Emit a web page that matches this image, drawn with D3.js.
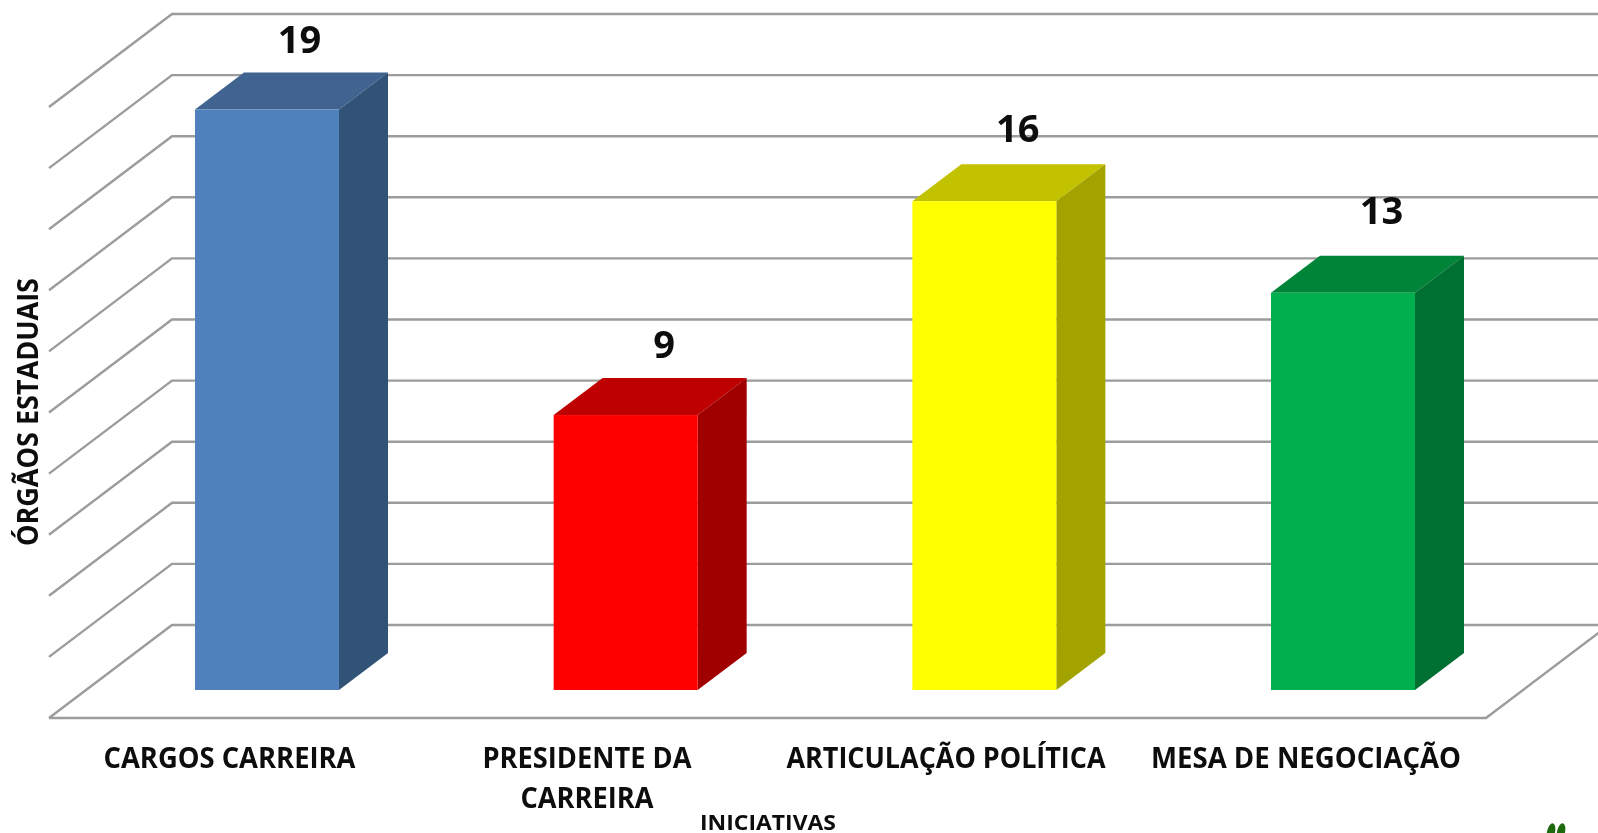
<!DOCTYPE html>
<html>
<head>
<meta charset="utf-8">
<script src="https://cdn.jsdelivr.net/npm/d3@7"></script>
<style>
html,body{margin:0;padding:0;background:#fff;overflow:hidden}
svg{display:block}
text{font-family:"Open Sans",sans-serif;font-weight:700;fill:#0a0a0a}
</style>
</head>
<body>
<svg id="chart" width="1598" height="833"></svg>
<script>
// Data
const categories = ["CARGOS CARREIRA", "PRESIDENTE DA CARREIRA", "ARTICULAÇÃO POLÍTICA", "MESA DE NEGOCIAÇÃO"];
const values = [19, 9, 16, 13];
const yDomain = [0, 20];
const yTickStep = 2;
const xTitle = "INICIATIVAS";
const yTitle = "ÓRGÃOS ESTADUAIS";

// Styles
const frontColors = ["#4f81bd", "#ff0000", "#ffff00", "#00b050"];
const topColors = ["#3f6390", "#bf0000", "#c2c200", "#008437"];
const sideColors = ["#325278", "#a00000", "#a3a300", "#006f32"];

// Layout of the pseudo-3D box
const W = 1598, H = 833;
const wallLeft = 172, depthX = 123, depthY = 93, floorRight = 1486;
const barDepthX = 49, barFrontDrop = 65, barBackDrop = 28;
const labelNudgeX = [8, 14, 9, 14];
const labelBaselineGap = [20, 20, 22, 32];
const catCenterX = [229.5, 587, 946, 1306];
const catLines = [["CARGOS CARREIRA"], ["PRESIDENTE DA", "CARREIRA"], ["ARTICULAÇÃO POLÍTICA"], ["MESA DE NEGOCIAÇÃO"]];
const lineWidthFor = {"CARGOS CARREIRA":252,"PRESIDENTE DA":209,"CARREIRA":133,"ARTICULAÇÃO POLÍTICA":319,"MESA DE NEGOCIAÇÃO":310};

const y = d3.scaleLinear().domain(yDomain).range([625, 14]);
const x = d3.scaleBand().domain(categories).range([195, 1415]).paddingInner(0.5985).paddingOuter(0);
const gridTicks = d3.range(yDomain[0], yDomain[1] + yTickStep, yTickStep);

const svg = d3.select("#chart");
const defs = svg.append("defs");
defs.append("filter").attr("id", "soft").attr("x", "-2%").attr("y", "-2%").attr("width", "104%").attr("height", "104%")
  .append("feGaussianBlur").attr("stdDeviation", 0.7);
const root = svg.append("g").attr("filter", "url(#soft)");
root.append("rect").attr("width", W).attr("height", H).attr("fill", "#fff");

const gridColor = "#9c9c9c";
const grid = root.append("g").attr("fill", "none").attr("stroke", gridColor).attr("stroke-width", 2.4);
grid.selectAll("path.wall").data(gridTicks).join("path").attr("class", "wall")
  .attr("d", d => `M${wallLeft - depthX},${y(d) + depthY}L${wallLeft},${y(d)}L${W + 2},${y(d)}`);
grid.append("path")
  .attr("d", `M${wallLeft - depthX},${y(0) + depthY}L${floorRight},${y(0) + depthY}L${floorRight + depthX},${y(0)}`);

const bars = root.append("g").selectAll("g").data(categories).join("g");
bars.append("polygon").attr("fill", (d, i) => topColors[i]).attr("points", (d, i) => {
  const l = x(d), r = l + x.bandwidth(), ft = y(values[i]) + barFrontDrop, bt = y(values[i]) + barBackDrop;
  return [[l, ft], [l + barDepthX, bt], [r + barDepthX, bt], [r, ft]].join(" ");
});
bars.append("polygon").attr("fill", (d, i) => sideColors[i]).attr("points", (d, i) => {
  const r = x(d) + x.bandwidth();
  return [[r, y(values[i]) + barFrontDrop], [r + barDepthX, y(values[i]) + barBackDrop],
          [r + barDepthX, y(0) + barBackDrop], [r, y(0) + barFrontDrop]].join(" ");
});
bars.append("rect").attr("fill", (d, i) => frontColors[i])
  .attr("x", d => x(d)).attr("width", x.bandwidth())
  .attr("y", (d, i) => y(values[i]) + barFrontDrop)
  .attr("height", (d, i) => y(0) - y(values[i]));

// Value labels
root.append("g").selectAll("text").data(categories).join("text")
  .attr("text-anchor", "middle").attr("font-size", 38)
  .attr("x", (d, i) => x(d) + (x.bandwidth() + barDepthX) / 2 + labelNudgeX[i])
  .attr("y", (d, i) => y(values[i]) + barBackDrop - labelBaselineGap[i])
  .text((d, i) => values[i]);

// Category labels
const cat = root.append("g").selectAll("g").data(catLines).join("g");
cat.selectAll("text").data((lines, i) => lines.map((t, j) => ({t, j, cx: catCenterX[i]}))).join("text")
  .attr("text-anchor", "middle").attr("font-size", 28)
  .attr("x", d => d.cx).attr("y", d => 768 + d.j * 40)
  .attr("textLength", d => lineWidthFor[d.t]).attr("lengthAdjust", "spacingAndGlyphs")
  .text(d => d.t);

// Axis titles
root.append("text").attr("text-anchor", "middle").attr("font-size", 21)
  .attr("x", 768).attr("y", 830).attr("textLength", 136).attr("lengthAdjust", "spacingAndGlyphs").text(xTitle);
root.append("text").attr("text-anchor", "middle").attr("font-size", 28)
  .attr("transform", "translate(38,412) rotate(-90)")
  .attr("textLength", 268).attr("lengthAdjust", "spacingAndGlyphs").text(yTitle);

// Cropped logo fragment at the lower right
const logo = root.append("g").attr("fill", "#1f6a10");
logo.append("ellipse").attr("cx", 1551).attr("cy", 832).attr("rx", 4).attr("ry", 9).attr("transform", "rotate(12 1551 832)");
logo.append("ellipse").attr("cx", 1561).attr("cy", 832).attr("rx", 4).attr("ry", 9).attr("transform", "rotate(12 1561 832)");
</script>
</body>
</html>
